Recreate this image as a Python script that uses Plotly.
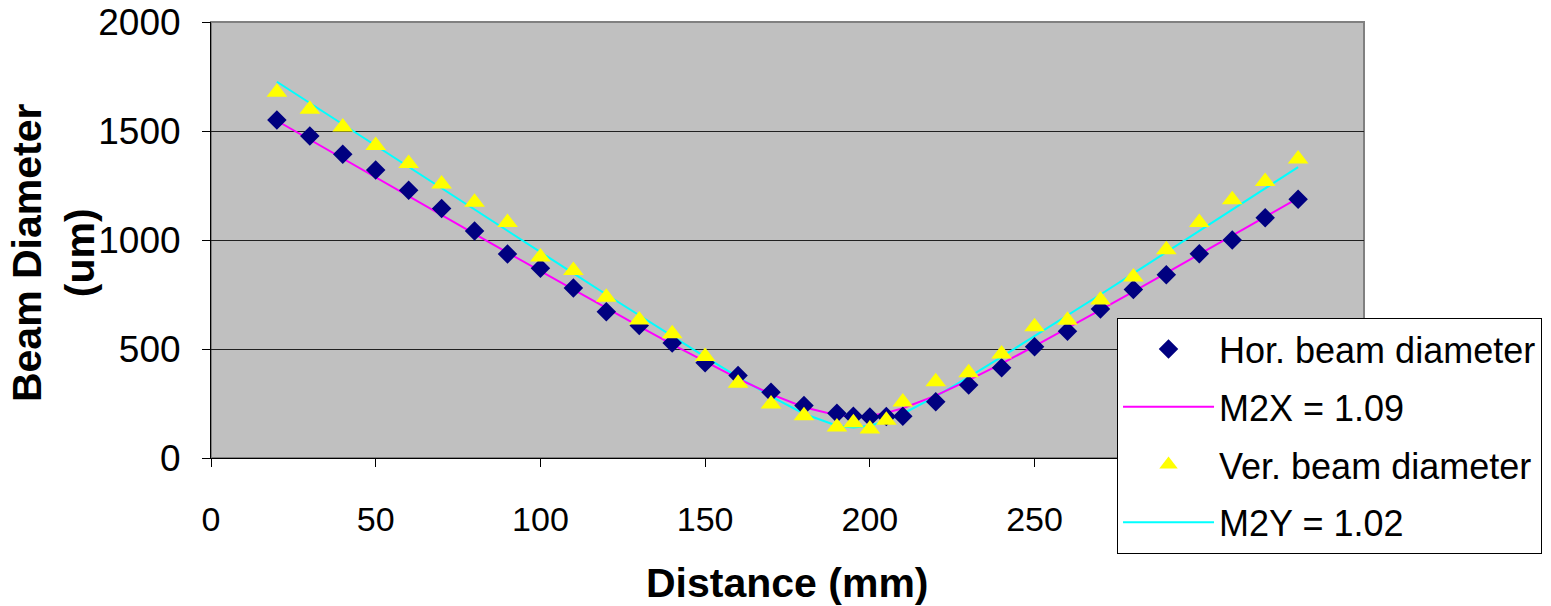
import plotly.graph_objects as go

# ---- data ----
distance_mm = [20, 30, 40, 50, 60, 70, 80, 90, 100, 110, 120, 130, 140, 150, 160, 170, 180,
               190, 195, 200, 205, 210, 220, 230, 240, 250, 260, 270, 280, 290, 300, 310, 320, 330]

hor_diameter = [1550, 1477, 1393, 1321, 1228, 1144, 1041, 936, 870, 780, 671, 608, 527, 437, 379, 302, 241,
                205, 192, 188, 190, 192, 258, 335, 414, 510, 581, 684, 773, 841, 937, 1000, 1102, 1187]

ver_diameter = [1678, 1600, 1518, 1434, 1351, 1257, 1173, 1080, 922, 860, 737, 633, 570, 466, 343, 248, 194,
                142, 162, 133, 173, 257, 350, 391, 477, 602, 632, 725, 830, 955, 1080, 1185, 1268, 1372]

m2x_fit = [1547, 1460, 1374, 1287, 1201, 1114, 1028, 942, 857, 772, 687, 604, 521, 441, 364, 293, 233,
           196, 190, 194, 207, 228, 286, 357, 433, 513, 595, 679, 763, 848, 934, 1020, 1106, 1192]

m2y_fit = [1726, 1628, 1530, 1432, 1334, 1237, 1139, 1042, 944, 847, 750, 654, 558, 464, 371, 283, 203,
           148, 140, 148, 171, 203, 283, 371, 464, 558, 654, 750, 847, 944, 1042, 1139, 1237, 1334]

series_names = ["Hor. beam diameter", "M2X = 1.09", "Ver. beam diameter", "M2Y = 1.02"]
x_ticks = [0, 50, 100, 150, 200, 250, 300, 350]
y_ticks = [0, 500, 1000, 1500, 2000]

FONT = "Liberation Sans, Arial, sans-serif"

fig = go.Figure()

fig.add_trace(go.Scatter(x=distance_mm, y=m2y_fit, mode="lines", name=series_names[3],
                         line=dict(color="#00FFFF", width=2), legendrank=4, legendgroup="d"))
fig.add_trace(go.Scatter(x=distance_mm, y=m2x_fit, mode="lines", name=series_names[1],
                         line=dict(color="#FF00FF", width=2), legendrank=2, legendgroup="b"))
fig.add_trace(go.Scatter(x=distance_mm, y=hor_diameter, mode="markers", name=series_names[0],
                         marker=dict(symbol="diamond", size=15, color="#000080", line=dict(width=0)),
                         legendrank=1, legendgroup="a"))
fig.add_trace(go.Scatter(x=distance_mm, y=ver_diameter, mode="markers", name=series_names[2],
                         marker=dict(symbol="triangle-up", size=18, color="#FFFF00", line=dict(width=0)),
                         legendrank=3, legendgroup="c"))

# plot-area frame (grey top/right border)
fig.add_shape(type="rect", xref="paper", yref="paper", x0=0, x1=1, y0=0, y1=1,
              line=dict(color="#808080", width=2), layer="below")

# page body has an 8px default margin: size the figure so the plot area lands where the reference has it
fig.update_layout(
    width=1543, height=598,
    margin=dict(l=203, r=187, t=14, b=148, autoexpand=False),
    paper_bgcolor="white",
    plot_bgcolor="#C0C0C0",
    font=dict(family=FONT, color="black"),
    showlegend=True,
    legend=dict(
        x=0.7858, y=0.3211, xanchor="left", yanchor="top",
        bgcolor="white", bordercolor="black", borderwidth=1,
        font=dict(family=FONT, size=36, color="black"),
        itemwidth=91, tracegroupgap=8, traceorder="grouped",
    ),
    xaxis=dict(
        range=[0, 350], tickmode="array", tickvals=x_ticks,
        ticks="outside", ticklen=8, tickcolor="black", tickwidth=1,
        showline=True, linecolor="black", linewidth=1,
        showgrid=False, zeroline=False, automargin=False,
        tickfont=dict(family=FONT, size=34, color="black"),
        ticklabelstandoff=23, ticklabeloverflow="allow",
    ),
    yaxis=dict(
        range=[0, 2000], tickmode="array", tickvals=y_ticks,
        ticks="outside", ticklen=8, tickcolor="black", tickwidth=1,
        showline=True, linecolor="black", linewidth=1,
        showgrid=True, gridcolor="#202020", gridwidth=1,
        zeroline=False, automargin=False,
        tickfont=dict(family=FONT, size=37, color="black"),
        ticklabelstandoff=14, ticklabeloverflow="allow",
    ),
    annotations=[
        dict(text="<b>Distance (mm)</b>", xref="paper", yref="paper", x=0.5, y=0,
             xanchor="center", yanchor="middle", yshift=-125, showarrow=False,
             font=dict(family=FONT, size=41, color="black")),
        dict(text="<b>Beam Diameter<br>(um)</b>", xref="paper", yref="paper", x=0, y=0.47,
             xanchor="center", yanchor="middle", xshift=-158, textangle=-90, showarrow=False,
             font=dict(family=FONT, size=41, color="black")),
    ],
)

fig.write_html("out.html")
